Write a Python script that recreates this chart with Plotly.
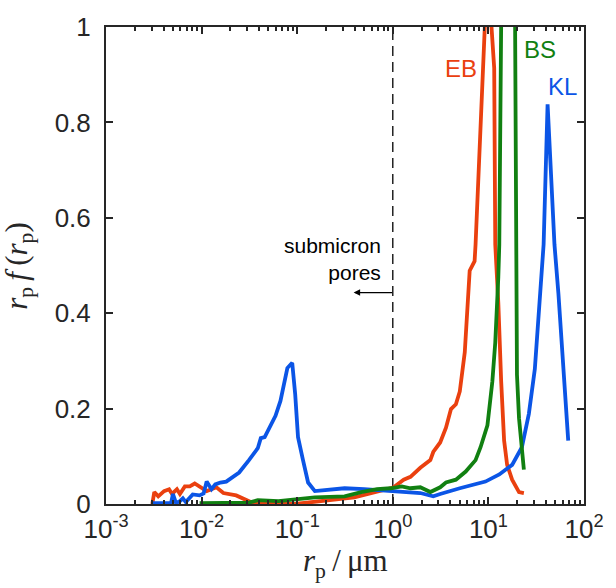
import plotly.graph_objects as go

# ---- data (r_p in micrometres, r_p f(r_p)) ----
kl_x = [0.00305, 0.00479, 0.00502, 0.00540, 0.00593, 0.00637, 0.00684, 0.00807, 0.00953,
        0.0105, 0.0113, 0.0127, 0.0139, 0.0157, 0.0181, 0.0214, 0.0247, 0.0313, 0.0387,
        0.0416, 0.0457, 0.0593, 0.0668, 0.0789, 0.0887, 0.0953, 0.102, 0.115, 0.130,
        0.153, 0.313, 0.5, 0.953, 1.94, 2.65, 3.13, 5.02, 9.31, 13.0, 17.7, 22.4, 26.5,
        30.6, 34.4, 37.8, 41.6, 49.1, 54.0, 68.4]
kl_y = [0.002, 0.002, 0.021, 0.002, 0.006, 0.012, 0.004, 0.020, 0.018,
        0.022, 0.047, 0.031, 0.041, 0.045, 0.047, 0.057, 0.066, 0.092, 0.117,
        0.138, 0.140, 0.185, 0.216, 0.285, 0.296, 0.230, 0.140, 0.092, 0.045,
        0.027, 0.033, 0.031, 0.027, 0.023, 0.016, 0.021, 0.033, 0.047, 0.062, 0.082, 0.119, 0.189,
        0.283, 0.441, 0.544, 0.838, 0.544, 0.441, 0.133]

eb_x = [0.00305, 0.0032, 0.00352, 0.00405, 0.00457, 0.00491, 0.00552, 0.00593, 0.00668,
        0.00752, 0.00847, 0.00953, 0.0113, 0.0143, 0.0169, 0.0230, 0.0277, 0.0344, 0.0953,
        0.153, 0.396, 0.867, 1.02, 1.30, 1.53, 1.94, 2.47, 2.65, 3.13, 3.60, 4.06, 4.57,
        5.02, 5.66, 6.08, 6.37, 7.17, 7.34, 9.77, 11.5, 11.8, 12.7, 13.6, 14.6, 15.7,
        17.7, 20.9, 23.5]
eb_y = [0.0, 0.025, 0.016, 0.027, 0.031, 0.021, 0.031, 0.021, 0.037,
        0.037, 0.043, 0.037, 0.027, 0.035, 0.023, 0.018, 0.010, 0.002, 0.0,
        0.004, 0.014, 0.031, 0.035, 0.051, 0.057, 0.076, 0.092, 0.109, 0.129, 0.160, 0.199, 0.209,
        0.236, 0.318, 0.421, 0.489, 0.509, 0.544, 1.13, 0.914, 0.544, 0.421, 0.257, 0.133, 0.082,
        0.051, 0.025, 0.023]

bs_x = [0.00953, 0.0313, 0.0387, 0.0637, 0.153, 0.313, 0.468, 0.684, 0.953, 1.24, 1.53,
        1.94, 2.47, 3.13, 3.60, 4.57, 5.79, 7.34, 8.28, 9.77, 11.0, 11.8, 12.7, 13.0,
        13.9, 16.1, 18.5, 19.5, 19.9, 20.9, 23.5]
bs_y = [0.002, 0.003, 0.008, 0.006, 0.014, 0.016, 0.025, 0.031, 0.033, 0.037, 0.033,
        0.035, 0.025, 0.035, 0.045, 0.051, 0.068, 0.092, 0.119, 0.165, 0.257, 0.339, 0.476, 0.544,
        1.23, 1.5, 1.46, 0.544, 0.271, 0.18, 0.072]

x_tickvals = [1e-3, 1e-2, 1e-1, 1e0, 1e1, 1e2]
x_ticktext = ["10<sup>-3</sup>", "10<sup>-2</sup>", "10<sup>-1</sup>",
              "10<sup>0</sup>", "10<sup>1</sup>", "10<sup>2</sup>"]
y_tickvals = [0, 0.2, 0.4, 0.6, 0.8, 1]
y_ticktext = ["0", "0.2", "0.4", "0.6", "0.8", "1"]
minor_vals = [m * 10 ** e for e in range(-3, 2) for m in range(2, 10)]

RED = "#EA400F"
GREEN = "#118011"
BLUE = "#0B55E6"
AX = "#262626"
SANS = "Liberation Sans, Arial, sans-serif"
SERIF = "Liberation Serif, Times New Roman, serif"
LW = 3.8

fig = go.Figure()
fig.add_trace(go.Scatter(x=[1, 1], y=[0, 1], mode="lines",
                         line=dict(color="black", width=1.3, dash="10px,6px"),
                         hoverinfo="skip"))
fig.add_trace(go.Scatter(x=eb_x, y=eb_y, mode="lines", line=dict(color=RED, width=LW), name="EB"))
fig.add_trace(go.Scatter(x=kl_x, y=kl_y, mode="lines", line=dict(color=BLUE, width=LW), name="KL"))
fig.add_trace(go.Scatter(x=bs_x, y=bs_y, mode="lines", line=dict(color=GREEN, width=LW), name="BS"))

L, R, T, B = 106, 25, 19, 84
W, H = 616, 588
pw, ph = W - L - R, H - T - B


def px(xp):
    return (xp - L) / pw


def py(yp):
    return (H - B - yp) / ph


fig.update_layout(
    width=W, height=H,
    margin=dict(l=L, r=R, t=T, b=B),
    paper_bgcolor="white", plot_bgcolor="white",
    showlegend=False,
    hovermode=False,
    font=dict(family=SANS, color=AX, size=26),
    xaxis=dict(type="log", range=[-3, 2], tickmode="array", tickvals=x_tickvals,
               ticktext=x_ticktext, ticks="inside", ticklen=7, tickwidth=1.5, tickcolor=AX,
               showline=True, linecolor=AX, linewidth=2, mirror="ticks",
               showgrid=False, zeroline=False, ticklabelstandoff=1,
               tickfont=dict(family=SANS, size=26, color=AX),
               minor=dict(tickmode="array", tickvals=minor_vals, ticks="inside",
                          ticklen=4, tickwidth=1.5, tickcolor=AX, showgrid=False)),
    yaxis=dict(range=[0, 1], tickmode="array", tickvals=y_tickvals, ticktext=y_ticktext,
               ticks="inside", ticklen=7, tickwidth=1.5, tickcolor=AX,
               showline=True, linecolor=AX, linewidth=2, mirror="ticks",
               showgrid=False, zeroline=False, ticklabelstandoff=8,
               tickfont=dict(family=SANS, size=26, color=AX)),
)

annos = [
    dict(x=px(466), y=py(61), text="EB", font=dict(color=RED, size=24, family=SANS)),
    dict(x=px(546), y=py(42), text="BS", font=dict(color=GREEN, size=24, family=SANS)),
    dict(x=px(569), y=py(80), text="KL", font=dict(color=BLUE, size=24, family=SANS)),
    dict(x=px(387), y=py(255), text="submicron<br>pores", align="right", xanchor="right",
         font=dict(color="black", size=21, family=SANS)),
    dict(x=px(17), y=0.5,
         text="<i>r</i><sub>p</sub>\u2009<i>f</i>\u2009(<i>r</i><sub>p</sub>)",
         textangle=-90, font=dict(color=AX, size=31, family=SERIF)),
    dict(x=0.5, y=py(564), text="<i>r</i><sub>p</sub>\u2009/\u2009μm",
         font=dict(color=AX, size=31, family=SERIF)),
]
for a in annos:
    a.setdefault("xanchor", "center")
    a.setdefault("yanchor", "middle")
    fig.add_annotation(xref="paper", yref="paper", showarrow=False, **a)

# arrow pointing to submicron side
fig.add_annotation(xref="x", yref="paper", x=-0.41, y=py(289), ax=40, ay=0,
                   axref="pixel", ayref="pixel", showarrow=True, arrowhead=2,
                   arrowsize=1, arrowwidth=1.3, arrowcolor="black", text="")

fig.write_html("out.html", config={"displayModeBar": False},
               post_script="document.body.style.margin='0px';")
